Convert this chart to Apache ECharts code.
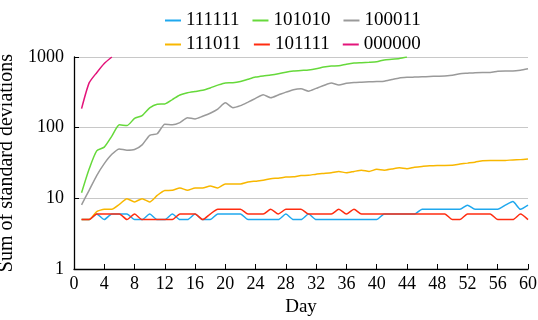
<!DOCTYPE html>
<html>
<head>
<meta charset="utf-8">
<script src="https://cdn.jsdelivr.net/npm/echarts@6/dist/echarts.min.js"></script>
<style>
html,body{margin:0;padding:0;background:#fff;}
#chart{width:538px;height:320px;}
</style>
</head>
<body>
<div id="chart"></div>
<script>
const days = [1,2,3,4,5,6,7,8,9,10,11,12,13,14,15,16,17,18,19,20,
  21,22,23,24,25,26,27,28,29,30,31,32,33,34,35,36,37,38,39,40,
  41,42,43,44,45,46,47,48,49,50,51,52,53,54,55,56,57,58,59,60];

const s111111 = [5,5,6,5,6,6,6,5,5,6,5,5,6,5,5,6,5,5,6,6,
  6,6,5,5,5,5,5,6,5,5,6,5,5,5,5,5,5,5,5,5,
  6,6,6,6,6,7,7,7,7,7,7,8,7,7,7,7,8,9,7,8];
const s101111 = [5,5,6,6,6,6,5,6,5,5,5,5,5,6,6,6,5,6,7,7,
  7,7,6,6,6,7,6,7,7,7,6,6,6,6,7,6,7,6,6,6,
  6,6,6,6,6,6,6,6,6,5,5,6,6,6,6,5,5,5,6,5];
const s111011 = [5,5,6.5,7,7,8.2,9.9,8.9,9.9,8.9,
  11,12.9,13,14,13,14,14,15,14,16,
  16,16,17,17.5,18,19,19.3,20,20.2,21,
  21.2,22,22.5,23,24,23,24,25,24,25.8,
  25,26,27,26.2,27.5,28.3,28.8,29.2,29.2,29.3,
  30.5,31.5,32.5,34,34.3,34.3,34.4,35,35.3,36];
const s100011 = [8.1,13,21,31,42,50,48,49,57,78,
  82,112,110,118,138,133,145,160,183,225,
  192,205,230,260,292,265,290,318,345,355,
  328,360,395,428,400,425,435,440,445,450,
  455,480,505,515,520,525,530,535,540,550,
  580,590,600,605,605,630,635,635,650,680];
const s101010 = [12,26,47,53,76,110,107,135,148,190,
  215,217,250,290,312,325,338,365,400,430,
  432,450,485,520,540,555,578,610,632,645,
  655,680,720,745,752,790,820,830,840,855,
  910,930,955,1000];
const s000000 = [186,430,600,810,1000];

const xTicks = [0,4,8,12,16,20,24,28,32,36,40,44,48,52,56,60];
const yTicks = [1,10,100,1000];

const seriesDefs = [
  {name:'111111', data:s111111, color:'#1fa8ee'},
  {name:'101010', data:s101010, color:'#66d93b'},
  {name:'100011', data:s100011, color:'#9a9a9a'},
  {name:'111011', data:s111011, color:'#f8b700'},
  {name:'101111', data:s101111, color:'#ff2c10'},
  {name:'000000', data:s000000, color:'#e3147a'}
];

const font = 'Liberation Serif, Times New Roman, serif';
const chart = echarts.init(document.getElementById('chart'), null, {renderer:'canvas'});

const legendCommon = {
  icon: 'rect', itemWidth: 16, itemHeight: 2, itemGap: 13,
  textStyle: {fontFamily: font, fontSize: 19, color: '#000'},
  selectedMode: false
};

chart.setOption({
  animation: false,
  backgroundColor: '#fff',
  legend: [
    Object.assign({left: 160, top: 6, data: ['111111','101010','100011']}, legendCommon),
    Object.assign({left: 160, top: 30, data: ['111011','101111','000000']}, legendCommon)
  ],
  grid: {left: 74, right: 10, top: 57, bottom: 51, containLabel: false, outerBoundsMode: 'none'},
  xAxis: {
    type: 'value', min: xTicks[0], max: xTicks[xTicks.length-1], interval: 4,
    name: 'Day', nameLocation: 'middle', nameGap: 27,
    nameTextStyle: {fontFamily: font, fontSize: 19, color: '#000'},
    axisLine: {show: true, onZero: false, lineStyle: {color: '#000', width: 1.3}},
    axisTick: {show: true, inside: true, length: 5, lineStyle: {color: '#000'}},
    axisLabel: {fontFamily: font, fontSize: 18, color: '#000', margin: 6,
      formatter: v => xTicks.includes(v) ? String(v) : ''},
    splitLine: {show: false}
  },
  yAxis: {
    type: 'log', logBase: 10, min: yTicks[0], max: yTicks[yTicks.length-1],
    name: 'Sum of standard deviations', nameLocation: 'middle', nameGap: 45,
    nameTextStyle: {fontFamily: font, fontSize: 20, color: '#000'},
    axisLine: {show: true, lineStyle: {color: '#000', width: 1.3}},
    axisTick: {show: true, inside: true, length: 5, lineStyle: {color: '#000'}},
    axisLabel: {fontFamily: font, fontSize: 18, color: '#000', margin: 10,
      formatter: v => String(v)},
    splitLine: {show: true, lineStyle: {color: '#c8c8c8', width: 1.2}},
    minorTick: {show: false}
  },
  series: seriesDefs.map(s => ({
    name: s.name, type: 'line', smooth: 0.2, symbol: 'none',
    data: s.data.map((v, i) => [days[i], v]),
    itemStyle: {color: s.color},
    lineStyle: {color: s.color, width: 1.5}
  }))
});
</script>
</body>
</html>
